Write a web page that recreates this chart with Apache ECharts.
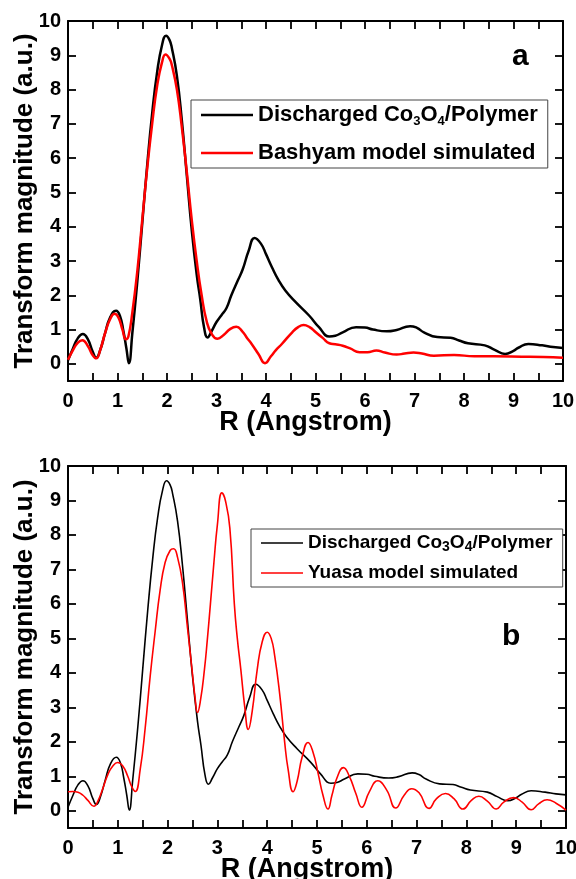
<!DOCTYPE html>
<html>
<head>
<meta charset="utf-8">
<script src="https://cdn.jsdelivr.net/npm/echarts@6/dist/echarts.min.js"></script>
<style>
html,body{margin:0;padding:0;background:#fff;}
#c{width:576px;height:879px;}
</style>
</head>
<body>
<div id="c"></div>
<script>
// ---- Data ----
const rDischarged = [0.00,0.10,0.20,0.30,0.40,0.50,0.57,0.65,0.75,0.85,0.97,1.05,1.12,1.18,1.23,1.30,1.40,1.50,1.60,1.70,1.80,1.90,1.98,2.05,2.10,2.20,2.30,2.40,2.50,2.60,2.67,2.75,2.82,2.90,3.00,3.10,3.20,3.30,3.43,3.53,3.65,3.77,3.90,4.00,4.12,4.25,4.39,4.60,4.87,5.07,5.28,5.40,5.55,5.82,6.00,6.16,6.44,6.64,6.91,7.05,7.19,7.46,7.73,7.90,8.08,8.42,8.62,8.83,9.00,9.10,9.30,9.58,9.80,10.00];
const magDischarged = [0.10,0.45,0.75,0.87,0.72,0.35,0.18,0.40,0.90,1.35,1.55,1.40,0.95,0.45,0.02,0.90,2.40,4.10,5.80,7.30,8.50,9.30,9.57,9.45,9.20,8.40,7.10,5.50,3.90,2.60,1.90,1.05,0.77,0.95,1.22,1.42,1.62,2.00,2.43,2.76,3.30,3.67,3.50,3.20,2.82,2.45,2.14,1.80,1.41,1.07,0.80,0.82,0.92,1.07,1.06,1.00,0.95,0.99,1.10,1.05,0.92,0.78,0.76,0.68,0.60,0.54,0.41,0.29,0.38,0.47,0.58,0.54,0.49,0.46];

const rBashyam = [0.00,0.10,0.20,0.29,0.40,0.50,0.57,0.65,0.75,0.85,0.94,1.02,1.10,1.17,1.22,1.30,1.40,1.50,1.60,1.70,1.80,1.90,1.97,2.05,2.10,2.20,2.30,2.40,2.50,2.60,2.70,2.80,2.90,3.02,3.15,3.28,3.40,3.52,3.62,3.71,3.85,3.98,4.10,4.20,4.32,4.53,4.65,4.76,4.88,5.00,5.15,5.28,5.40,5.55,5.70,5.89,6.05,6.23,6.40,6.64,6.80,6.98,7.15,7.39,7.80,8.21,8.60,9.17,9.60,10.00];
const magBashyam = [0.12,0.40,0.62,0.69,0.52,0.25,0.16,0.40,0.90,1.30,1.46,1.35,1.00,0.72,0.80,1.50,2.70,4.20,5.70,7.00,8.10,8.80,9.02,8.90,8.70,8.00,6.90,5.60,4.20,3.00,2.00,1.25,0.88,0.73,0.85,1.02,1.08,0.95,0.75,0.58,0.28,0.02,0.22,0.40,0.58,0.92,1.07,1.13,1.07,0.93,0.75,0.60,0.57,0.53,0.45,0.34,0.34,0.39,0.33,0.27,0.30,0.33,0.30,0.24,0.26,0.22,0.22,0.21,0.20,0.18];

const rYuasa = [0.00,0.10,0.20,0.30,0.40,0.52,0.60,0.70,0.80,0.90,1.00,1.10,1.20,1.28,1.35,1.45,1.55,1.65,1.75,1.85,1.95,2.05,2.12,2.20,2.30,2.40,2.49,2.55,2.60,2.66,2.74,2.80,2.86,2.93,3.00,3.09,3.16,3.25,3.34,3.40,3.47,3.55,3.62,3.70,3.80,3.90,4.00,4.08,4.15,4.25,4.35,4.42,4.52,4.60,4.70,4.82,4.92,5.02,5.12,5.22,5.30,5.40,5.53,5.65,5.78,5.90,6.05,6.22,6.40,6.58,6.75,6.90,7.05,7.25,7.40,7.58,7.75,7.93,8.10,8.25,8.42,8.60,8.75,8.95,9.12,9.30,9.45,9.62,9.80,10.00];
const magYuasa = [0.55,0.56,0.54,0.45,0.30,0.13,0.28,0.65,1.05,1.30,1.40,1.30,1.00,0.70,0.56,1.20,2.40,3.90,5.20,6.40,7.20,7.55,7.60,7.35,6.60,5.30,4.10,3.30,2.85,3.20,4.10,5.00,6.00,7.20,8.30,9.22,9.00,8.20,6.00,5.00,4.10,3.00,2.36,2.90,4.10,4.90,5.18,5.00,4.50,3.40,2.00,1.20,0.55,0.85,1.55,1.98,1.70,1.10,0.45,0.05,0.45,0.95,1.25,1.00,0.50,0.10,0.55,0.87,0.60,0.08,0.45,0.64,0.52,0.07,0.35,0.50,0.35,0.05,0.30,0.42,0.28,0.05,0.25,0.38,0.25,0.03,0.20,0.32,0.22,0.02];

const yTickValues = [0,1,2,3,4,5,6,7,8,9,10];

const nameDischarged = 'Discharged Co3O4/Polymer';
const nameBashyam = 'Bashyam model simulated';
const nameYuasa = 'Yuasa model simulated';

// ---- Chart ----
const zip = (xs, ys) => xs.map((x, i) => [x, ys[i]]);
const FONT = '"Liberation Sans", Arial, sans-serif';
const chart = echarts.init(document.getElementById('c'), null, {renderer: 'canvas'});

function xAxes(gridIndex) {
  const base = {
    type: 'value', gridIndex, min: 0, max: 10, interval: 1,
    splitLine: {show: false},
    axisLine: {show: true, onZero: false, lineStyle: {color: '#000', width: 2}},
    axisTick: {show: true, inside: true, length: 8, lineStyle: {color: '#000', width: 1.8}},
    minorTick: {show: true, splitNumber: 2, length: 8, lineStyle: {color: '#000', width: 1.8}}
  };
  return [
    Object.assign({}, base, {
      position: 'bottom',
      name: 'R (Angstrom)', nameLocation: 'middle', nameGap: 28, nameMoveOverlap: false,
      nameTextStyle: {fontFamily: FONT, fontWeight: 'bold', fontSize: 27, color: '#000', padding: [0, 20, 0, 0]},
      axisLabel: {show: true, margin: 10, fontFamily: FONT, fontWeight: 'bold', fontSize: 20, color: '#000'}
    }),
    Object.assign({}, base, {position: 'top', axisLabel: {show: false}})
  ];
}
function yAxes(gridIndex) {
  const base = {
    type: 'value', gridIndex, min: -0.5, max: 10,
    splitLine: {show: false},
    axisLine: {show: true, onZero: false, lineStyle: {color: '#000', width: 2}},
    axisTick: {show: true, inside: true, length: 8, customValues: yTickValues, lineStyle: {color: '#000', width: 1.8}}
  };
  return [
    Object.assign({}, base, {
      position: 'left',
      name: 'Transform magnitude (a.u.)', nameLocation: 'middle', nameGap: 30, nameMoveOverlap: false,
      nameTextStyle: {fontFamily: FONT, fontWeight: 'bold', fontSize: 26, color: '#000'},
      axisLabel: {show: true, margin: 7, customValues: yTickValues, fontFamily: FONT, fontWeight: 'bold', fontSize: 20, color: '#000'}
    }),
    Object.assign({}, base, {position: 'right', axisLabel: {show: false}})
  ];
}

function legendFmt(name) {
  if (name === nameDischarged) return '{n|Discharged Co}{s|3}{n|O}{s|4}{n|/Polymer}';
  return '{n|' + name + '}';
}
function legend(idx, left, top, fs, subFs, itemW, lineW, gap, pad) {
  return {
    show: true,
    orient: 'vertical', left, top,
    data: idx === 0 ? [nameDischarged, nameBashyam] : [nameDischarged, nameYuasa],
    icon: 'rect',
    itemWidth: itemW, itemHeight: lineW, itemGap: gap,
    padding: [pad, 10, pad, 10],
    borderColor: '#444', borderWidth: 1, backgroundColor: '#fff',
    formatter: legendFmt,
    textStyle: {
      fontFamily: FONT, fontWeight: 'bold', fontSize: fs, color: '#000',
      rich: {
        n: {fontFamily: FONT, fontWeight: 'bold', fontSize: fs, color: '#000', lineHeight: fs + 4},
        s: {fontFamily: FONT, fontWeight: 'bold', fontSize: subFs, color: '#000', lineHeight: subFs, verticalAlign: 'bottom'}
      }
    }
  };
}

function lineSeries(name, xs, ys, color, width, xi, yi) {
  return {
    type: 'line', name, data: zip(xs, ys), xAxisIndex: xi, yAxisIndex: yi,
    symbol: 'none', showSymbol: false, smooth: 0.5,
    lineStyle: {color, width}, itemStyle: {color},
    clip: true
  };
}

const option = {
  animation: false,
  backgroundColor: '#fff',
  grid: [
    {left: 68, right: 13, top: 21, height: 360, outerBoundsMode: 'none', containLabel: false},
    {left: 68, right: 10, top: 466, height: 362, outerBoundsMode: 'none', containLabel: false}
  ],
  xAxis: [...xAxes(0), ...xAxes(1)],
  yAxis: [...yAxes(0), ...yAxes(1)],
  legend: [
    legend(0, 191, 100, 22, 13, 52, 2.5, 14, 4),
    legend(1, 251, 529, 19, 14, 42, 1.6, 9, 4.5)
  ],
  graphic: [
    {type: 'text', left: 512, top: 42, style: {text: 'a', font: 'bold 30px ' + FONT, fill: '#000'}},
    {type: 'text', left: 502, top: 622, style: {text: 'b', font: 'bold 30px ' + FONT, fill: '#000'}}
  ],
  series: [
    lineSeries(nameDischarged, rDischarged, magDischarged, '#000000', 2.5, 0, 0),
    lineSeries(nameBashyam, rBashyam, magBashyam, '#ff0000', 2.5, 0, 0),
    lineSeries(nameDischarged, rDischarged, magDischarged, '#000000', 1.6, 2, 2),
    lineSeries(nameYuasa, rYuasa, magYuasa, '#ff0000', 1.6, 2, 2)
  ]
};
chart.setOption(option);
</script>
</body>
</html>
